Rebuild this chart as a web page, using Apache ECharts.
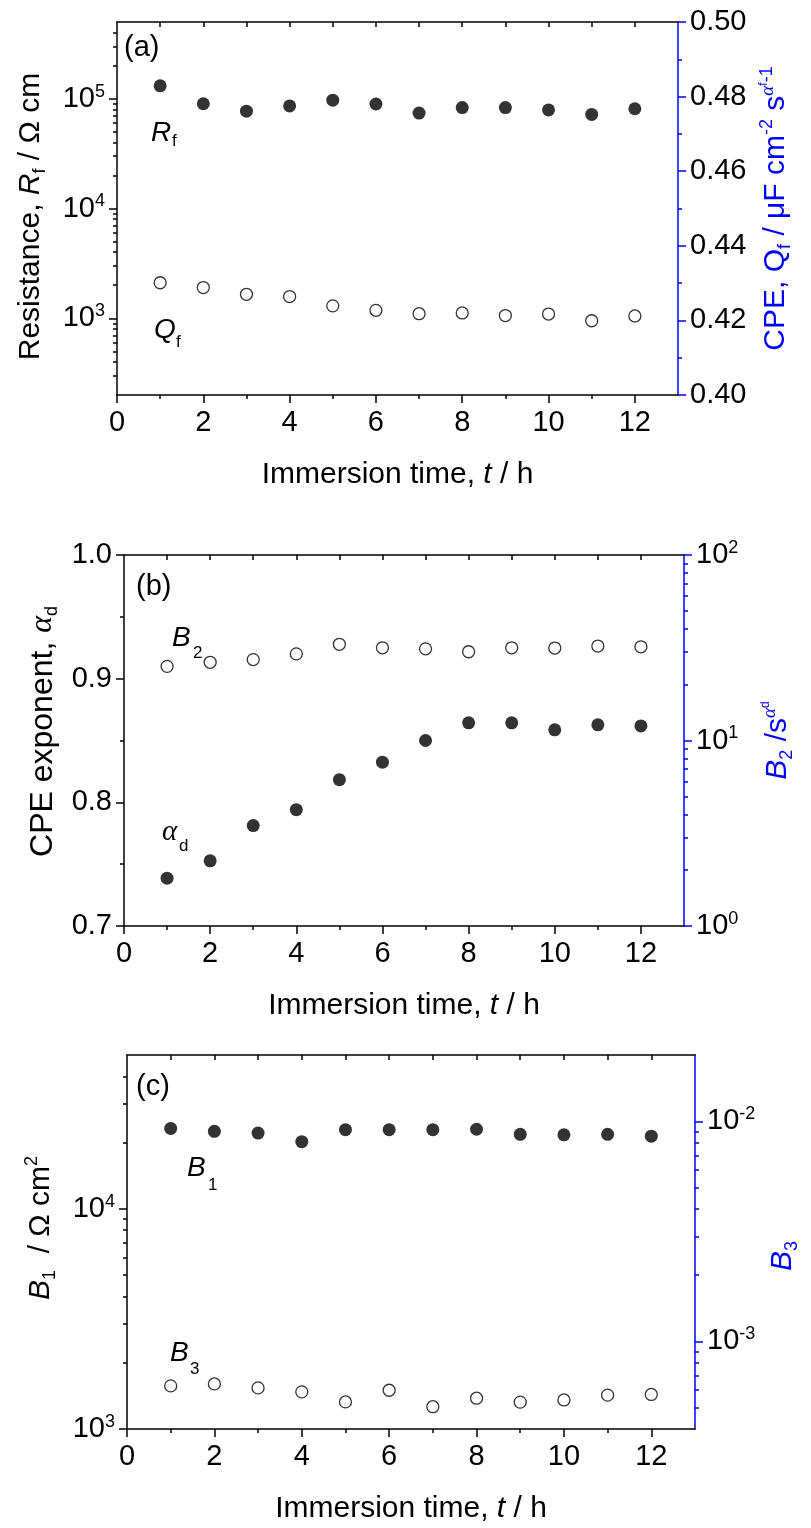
<!DOCTYPE html>
<html>
<head>
<meta charset="utf-8">
<script src="https://cdn.jsdelivr.net/npm/echarts@6/dist/echarts.min.js"></script>
<style>
  html, body { margin: 0; padding: 0; background: #fff; }
  #chart { width: 811px; height: 1528px; }
</style>
</head>
<body>
<div id="chart"></div>
<script>
// immersion time (h)
const hours = [1, 2, 3, 4, 5, 6, 7, 8, 9, 10, 11, 12];

// panel (a)
const rf = [131000, 90000, 77000, 86000, 97000, 89500, 74000, 83000, 83000, 79000, 72000, 81000];
const qf = [0.4301, 0.4288, 0.4270, 0.4264, 0.4239, 0.4227, 0.4218, 0.4220, 0.4213, 0.4217, 0.4199, 0.4212];

// panel (b)
const alphaD = [0.7387, 0.7527, 0.7812, 0.7941, 0.8183, 0.8325, 0.8500, 0.8643, 0.8643, 0.8586, 0.8627, 0.8618];
const b2 = [25.1, 26.4, 27.3, 29.3, 33.0, 31.6, 31.2, 30.1, 31.6, 31.5, 32.3, 32.0];

// panel (c)
const b1 = [23200, 22500, 22100, 20200, 22900, 22900, 22900, 23000, 21800, 21700, 21800, 21400];
const b3 = [6.28e-4, 6.41e-4, 6.15e-4, 5.90e-4, 5.31e-4, 6.0e-4, 5.05e-4, 5.52e-4, 5.30e-4, 5.42e-4, 5.70e-4, 5.74e-4];

// tick values
const xMajor = [0, 2, 4, 6, 8, 10, 12];
const xMinor = [1, 3, 5, 7, 9, 11];
const xTop = [1, 2, 3, 4, 5, 6, 7, 8, 9, 10, 11, 12];
const aLeftMajor = [1e3, 1e4, 1e5];
const bRightMajor = [1, 10, 100];
const cLeftMajor = [1e3, 1e4];
const cRightMajor = [1e-3, 1e-2];

const FONT = 'Liberation Sans, Arial, Helvetica, sans-serif';
const BLUE = '#0000ff';
const TICK_FS = 29;
const NAME_FS = 30;

// 2..9 x 10^k inside (lo, hi)
function logMinors(lo, hi) {
  const out = [];
  for (let k = -5; k <= 6; k++) {
    for (let m = 2; m <= 9; m++) {
      const v = +(m * Math.pow(10, k)).toPrecision(3);
      if (v > lo * 1.001 && v < hi * 0.999) out.push(v);
    }
  }
  return out;
}

const nameRich = (color, fs) => {
  fs = fs || NAME_FS;
  return {
    i: { fontStyle: 'italic', fontSize: fs, lineHeight: 36, color: color, fontFamily: FONT },
    n: { fontSize: fs, lineHeight: 36, color: color, fontFamily: FONT },
    sub: { fontSize: 18, lineHeight: 6, verticalAlign: 'bottom', color: color, fontFamily: FONT },
    sup: { fontSize: 18, lineHeight: 10, verticalAlign: 'top', color: color, fontFamily: FONT },
    supa: { fontSize: 19, lineHeight: 10, verticalAlign: 'top', fontStyle: 'italic', color: color, fontFamily: 'Liberation Serif, serif' },
    supsub: { fontSize: 12, lineHeight: 2, verticalAlign: 'top', color: color, fontFamily: FONT }
  };
};

const powRich = {
  b: { fontSize: TICK_FS, lineHeight: 32, color: '#000', fontFamily: FONT },
  e: { fontSize: 18, lineHeight: 10, verticalAlign: 'top', color: '#000', fontFamily: FONT }
};
const powLabel = (v) => '{b|10}{e|' + Math.round(Math.log10(v)) + '}';

function xAxesFor(g, nameGap) {
  return [
    {
      gridIndex: g, type: 'value', position: 'bottom', min: 0, max: 13,
      axisLine: { onZero: false, lineStyle: { color: '#000', width: 1.5 } },
      axisTick: { customValues: xMajor, length: 8, lineStyle: { color: '#000', width: 1.5 } },
      axisLabel: { customValues: xMajor, color: '#000', fontSize: TICK_FS, fontFamily: FONT, margin: 13 },
      splitLine: { show: false },
      name: '{n|Immersion time, }{i|t}{n| / h}', nameLocation: 'middle', nameGap: nameGap,
      nameTextStyle: { rich: nameRich('#000') }
    },
    {
      gridIndex: g, type: 'value', position: 'bottom', min: 0, max: 13,
      axisLine: { show: false, onZero: false },
      axisTick: { customValues: xMinor, length: 4, lineStyle: { color: '#000', width: 1.5 } },
      axisLabel: { show: false }, splitLine: { show: false }
    },
    {
      gridIndex: g, type: 'value', position: 'top', min: 0, max: 13,
      axisLine: { onZero: false, lineStyle: { color: '#000', width: 1.5 } },
      axisTick: { customValues: xTop, inside: true, length: 5, lineStyle: { color: '#000', width: 1.5 } },
      axisLabel: { show: false }, splitLine: { show: false }
    }
  ];
}

function logAxis(g, pos, min, max, major, color, name, nameGap, pad) {
  return [
    {
      gridIndex: g, type: 'log', logBase: 10, position: pos, min: min, max: max,
      axisLine: { onZero: false, lineStyle: { color: color, width: 1.5 } },
      axisTick: { customValues: major, length: 8, lineStyle: { color: color, width: 1.5 } },
      axisLabel: { customValues: major, formatter: powLabel, rich: powRich, margin: 12 },
      splitLine: { show: false },
      name: name, nameLocation: 'middle', nameGap: nameGap,
      nameTextStyle: { rich: nameRich(color), padding: pad }
    },
    {
      gridIndex: g, type: 'log', logBase: 10, position: pos, min: min, max: max,
      axisLine: { show: false, onZero: false },
      axisTick: { customValues: logMinors(min, max), length: 4, lineStyle: { color: color, width: 1.5 } },
      axisLabel: { show: false }, splitLine: { show: false }
    }
  ];
}

function valueAxis(g, pos, min, max, interval, digits, color, name, nameGap, pad, fs) {
  return {
    gridIndex: g, type: 'value', position: pos, min: min, max: max, interval: interval,
    axisLine: { onZero: false, lineStyle: { color: color, width: 1.5 } },
    axisTick: { length: 8, lineStyle: { color: color, width: 1.5 } },
    minorTick: { show: true, splitNumber: 2, length: 4, lineStyle: { color: color, width: 1.5 } },
    axisLabel: { color: '#000', fontSize: TICK_FS, fontFamily: FONT, margin: 12,
      formatter: (v) => v.toFixed(digits) },
    splitLine: { show: false }, minorSplitLine: { show: false },
    name: name, nameLocation: 'middle', nameGap: nameGap,
    nameTextStyle: { rich: nameRich(color, fs), padding: pad }
  };
}

const xAxis = [].concat(xAxesFor(0, 62), xAxesFor(1, 62), xAxesFor(2, 62));
// yAxis indices: 0,1 a-left | 2 a-right | 3 b-left | 4,5 b-right | 6,7 c-left | 8,9 c-right
const yAxis = [].concat(
  logAxis(0, 'left', 200, 500000, aLeftMajor, '#000',
    '{n|Resistance, }{i|R}{sub|f}{n| / Ω cm}', 68, [0, 16, 0, 0]),
  [valueAxis(0, 'right', 0.4, 0.5, 0.02, 2, BLUE,
    '{n|CPE, Q}{sub|f}{n| / μF cm}{sup|-2}{n| s}{supa|α}{supsub|f}{sup|-1}', 80, [0, 0, 0, 0])],
  [valueAxis(1, 'left', 0.7, 1.0, 0.1, 1, '#000',
    '{n|CPE exponent, }{supa|α}{sub|d}', 62, [0, 0, 0, 18], 32)],
  logAxis(1, 'right', 1, 100, bRightMajor, BLUE, '{i|B}{sub|2}{n| /s}{supa|α}{supsub|d}', 76, [0, 0, 0, 0]),
  logAxis(2, 'left', 1000, 50000, cLeftMajor, '#000', '{i|B}{sub|1}{n|  / Ω cm}{sup|2}', 68, [0, 0, 0, 28]),
  logAxis(2, 'right', 4e-4, 2e-2, cRightMajor, BLUE, '{i|B}{sub|3}', 70, [0, 28, 0, 0])
);
// the alpha in the (b) left title is full size
yAxis[3].nameTextStyle.rich.supa = { fontSize: 32, lineHeight: 36, fontStyle: 'italic', color: '#000', fontFamily: 'Liberation Serif, serif' };

const pairs = (ys) => hours.map((h, i) => [h, ys[i]]);
const filled = { type: 'scatter', symbol: 'circle', symbolSize: 13, itemStyle: { color: '#000' } };
const open = { type: 'scatter', symbol: 'circle', symbolSize: 12,
  itemStyle: { color: '#fff', borderColor: '#000', borderWidth: 1.3 } };

const series = [
  Object.assign({ name: 'Rf', xAxisIndex: 0, yAxisIndex: 0, data: pairs(rf) }, filled),
  Object.assign({ name: 'Qf', xAxisIndex: 0, yAxisIndex: 2, data: pairs(qf) }, open),
  Object.assign({ name: 'alpha_d', xAxisIndex: 3, yAxisIndex: 3, data: pairs(alphaD) }, filled),
  Object.assign({ name: 'B2', xAxisIndex: 3, yAxisIndex: 4, data: pairs(b2) }, open),
  Object.assign({ name: 'B1', xAxisIndex: 6, yAxisIndex: 6, data: pairs(b1) }, filled),
  Object.assign({ name: 'B3', xAxisIndex: 6, yAxisIndex: 8, data: pairs(b3) }, open)
];

function txt(left, top, text, size, extra) {
  return { type: 'text', left: left, top: top, z: 10,
    style: Object.assign({ text: text, fontSize: size, fontFamily: FONT, fill: '#000' }, extra || {}) };
}
const ital = { fontStyle: 'italic' };
const graphic = [
  txt(124, 33, '(a)', 29), txt(151, 119, 'R', 28, ital), txt(172, 133, 'f', 17),
  txt(154, 316, 'Q', 28, ital), txt(176, 334, 'f', 17),
  txt(136, 572, '(b)', 29), txt(172, 624, 'B', 28, ital), txt(193, 645, '2', 17),
  txt(162, 818, 'α', 29, { fontStyle: 'italic', fontFamily: 'Liberation Serif, serif' }), txt(179, 838, 'd', 17),
  txt(136, 1072, '(c)', 29), txt(187, 1154, 'B', 28, ital), txt(208, 1177, '1', 17),
  txt(170, 1339, 'B', 28, ital), txt(190, 1361, '3', 17)
];

const chart = echarts.init(document.getElementById('chart'), null, { renderer: 'canvas' });
chart.setOption({
  animation: false,
  backgroundColor: '#fff',
  textStyle: { fontFamily: FONT },
  grid: [
    { left: 117, top: 22, width: 561, height: 373, outerBoundsMode: 'none', containLabel: false },
    { left: 124, top: 555, width: 560, height: 371, outerBoundsMode: 'none', containLabel: false },
    { left: 127, top: 1055, width: 568, height: 374, outerBoundsMode: 'none', containLabel: false }
  ],
  xAxis: xAxis,
  yAxis: yAxis,
  series: series,
  graphic: graphic
});
</script>
</body>
</html>
